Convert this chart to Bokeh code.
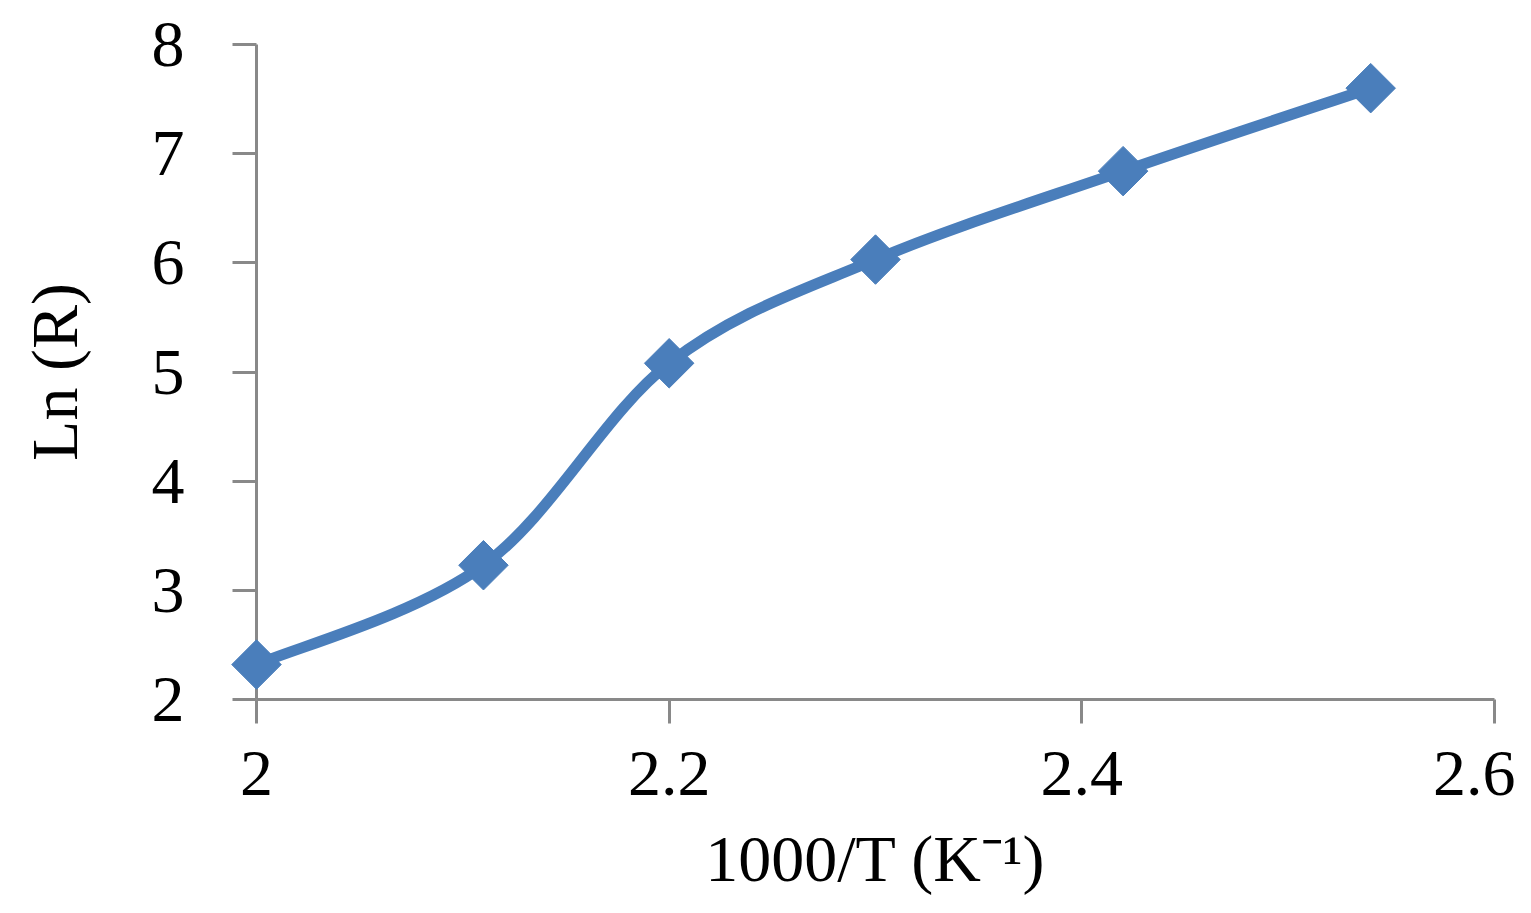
from bokeh.plotting import figure
from bokeh.models import Range1d, FixedTicker
from bokeh.embed import file_html
from bokeh.resources import INLINE
import numpy as np

# Data
x_vals = [2.0, 2.11, 2.2, 2.30, 2.42, 2.54]
y_vals = [2.32, 3.23, 5.08, 6.03, 6.84, 7.60]
x_ticks = [2.0, 2.2, 2.4, 2.6]
y_ticks = [2, 3, 4, 5, 6, 7, 8]
x_title = "1000/T (K\u207b\u00b9)"
y_title = "Ln (R)"

BLUE = "#4a7ebb"
GRAY = "#898989"
FONT = "Liberation Serif"
FS = "66px"

p = figure(width=1515, height=897, output_backend="svg", toolbar_location=None,
           x_range=Range1d(2.0, 2.6), y_range=Range1d(2, 8),
           min_border_left=256, min_border_right=21, min_border_top=44, min_border_bottom=198)
p.outline_line_color = None
p.grid.visible = False
p.background_fill_color = "white"
p.border_fill_color = "white"

for ax in (p.xaxis[0], p.yaxis[0]):
    ax.axis_line_color = GRAY
    ax.axis_line_width = 3
    ax.major_tick_line_color = GRAY
    ax.major_tick_line_width = 3
    ax.major_tick_out = 24
    ax.major_tick_in = 0
    ax.minor_tick_line_color = None
    ax.major_label_text_font = FONT
    ax.major_label_text_font_size = FS
    ax.major_label_text_color = "black"
    ax.axis_label_text_font = FONT
    ax.axis_label_text_font_size = FS
    ax.axis_label_text_font_style = "normal"
    ax.axis_label_text_color = "black"

p.xaxis[0].ticker = FixedTicker(ticks=x_ticks)
p.yaxis[0].ticker = FixedTicker(ticks=y_ticks)
p.xaxis[0].major_label_overrides = {2.0: "2", 2.2: "2.2", 2.4: "2.4", 2.6: "2.6"}
p.xaxis[0].axis_label = x_title
p.yaxis[0].axis_label = y_title
p.xaxis[0].major_label_standoff = 28
p.yaxis[0].major_label_standoff = 48
p.xaxis[0].axis_label_standoff = 24
p.yaxis[0].axis_label_standoff = 58

# Smooth curve (Catmull-Rom style Bezier segments through the data points)
xs = np.array(x_vals)
ys = np.array(y_vals)
n = len(xs)
xe = np.concatenate([[xs[0]], xs, [xs[-1]]])
ye = np.concatenate([[ys[0]], ys, [ys[-1]]])
x0 = xs[:-1]; y0 = ys[:-1]; x1 = xs[1:]; y1 = ys[1:]
cx0 = xe[1:n] + (xe[2:n+1] - xe[0:n-1]) / 6.0
cy0 = ye[1:n] + (ye[2:n+1] - ye[0:n-1]) / 6.0
cx1 = xe[2:n+1] - (xe[3:n+2] - xe[1:n]) / 6.0
cy1 = ye[2:n+1] - (ye[3:n+2] - ye[1:n]) / 6.0

r1 = p.bezier(x0=x0, y0=y0, x1=x1, y1=y1, cx0=cx0, cy0=cy0, cx1=cx1, cy1=cy1,
              line_color=BLUE, line_width=11, line_cap="round")
r1.level = "overlay"
r2 = p.scatter(x_vals, y_vals, marker="square", angle=np.pi / 4, size=35,
               fill_color=BLUE, line_color=BLUE, line_width=1)
r2.level = "overlay"

open("out.html", "w").write(file_html(p, INLINE))
